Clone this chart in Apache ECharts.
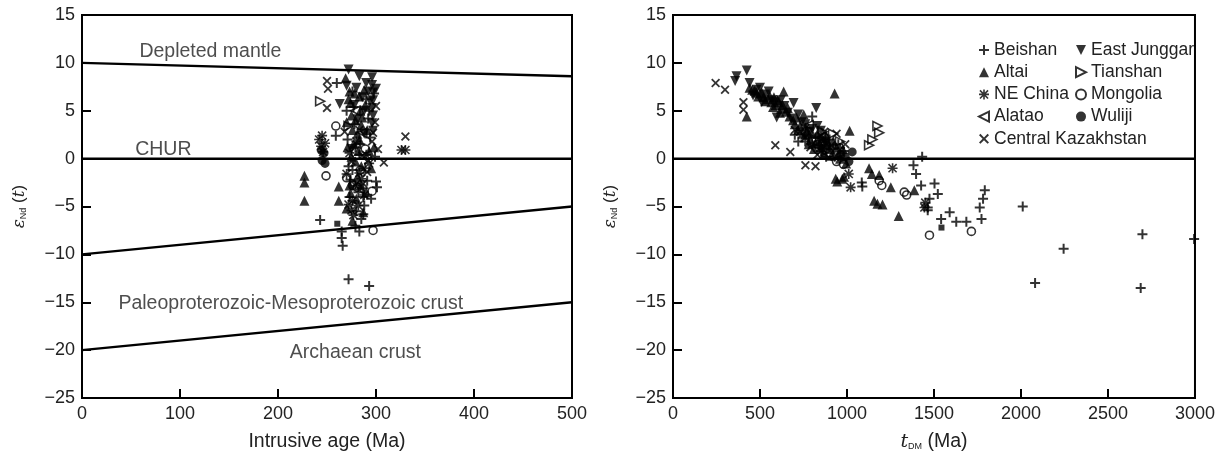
<!DOCTYPE html>
<html>
<head>
<meta charset="utf-8">
<title>eNd plots</title>
<script src="https://cdn.jsdelivr.net/npm/echarts@6/dist/echarts.min.js"></script>
</head>
<body style="margin:0;background:#fff;">
<div id="main" style="width:1218px;height:459px;"></div>
<script>
// 左图: 侵位年龄 - εNd(t)
var leftBeishan = [[243,-6.4],[265,-7.6],[265,-8.3],[266,-9.1],[272,-12.6],[293,-13.3],[260,7.9],[259,2.4],[276,7.0],[277,5.4],[278,3.6],[279,1.2],[276,-1.2],[287,-3.1],[287,-4.0],[288,-4.9],[287,-5.8],[290,6.2],[292,4.2],[294,2.2],[300,-2.4],[283,0.4],[272,-0.8],[274,-2.2],[298,6.8],[285,-6.3],
    [270,5.0],[271,2.0],[273,-4.0],[280,-5.5],[282,-3.5],[284,1.5],[289,-1.0],[291,-2.3],[293,5.0],[295,-4.2],[299,0.2],[301,-3.0],[279,-7.0],[283,-7.6]];
var leftAltai = [[227,-1.8],[227,-2.5],[227,-4.4],[262,-2.9],[262,-4.4],[269,8.4],[273,7.0],[274,5.8],[275,4.5],[276,3.0],[277,1.5],[275,0.2],[283,6.5],[284,5.0],[285,3.5],[283,2.0],[285,-0.8],[287,-5.6],[290,-3.5],[281,-1.9],[272,6.2],[280,-4.2],[288,7.2],[279,-0.3],
    [270,3.8],[271,1.2],[273,-2.8],[274,-3.6],[278,6.8],[279,4.0],[281,2.6],[282,0.8],[284,-2.8],[286,4.3],[289,5.6],[291,3.0],[293,0.8],[295,-1.0],[298,1.2],[270,-5.2],[276,-6.5]];
var leftNEChina = [[242,2.0],[244,1.3],[246,0.7],[248,1.6],[245,2.4],[272,-4.8],[275,-5.4],[277,-5.9],[276,-4.4],[283,-1.5],[285,-2.1],[326,0.9],[330,0.9],[280,1.8],[290,0.4],
    [270,-1.6],[279,-2.8],[282,-4.9],[288,-3.8],[293,-0.5],[273,0.6]];
var leftEastJunggar = [[272,9.3],[296,8.5],[263,5.7],[296,7.7],[297,6.9],[297,6.1],[296,5.3],[297,4.5],[296,3.7],[297,2.9],[280,7.4],[281,4.1],[275,1.0],[288,2.6],[290,7.9],
    [283,8.6],[286,6.4],[288,5.0],[292,7.0],[294,6.0],[270,7.6],[278,5.6],[300,7.3]];
var leftTianshan = [[243,6.0],[272,3.4],[278,-2.6]];
var leftMongolia = [[259,3.4],[249,-1.8],[276,-2.8],[281,-3.0],[296,-3.4],[297,-7.5],[289,1.0],[270,-2.0],[284,-1.2]];
var leftAlatao = [[286,2.7],[279,5.0]];
var leftWuliji = [[245,-0.2],[247,0.6],[248,-0.5],[244,0.9]];
var leftKazakh = [[250,8.1],[251,7.3],[250,5.3],[297,2.7],[296,1.8],[308,-0.4],[330,2.3],[291,-1.4],[275,-0.3],[286,0.3],[300,5.5],[299,3.8],
    [268,2.8],[283,3.0],[292,-0.2],[302,1.0],[287,-2.6]];
var leftOther = [[260.5,-6.8]];

// 右图: tDM - εNd(t)
var rightBeishan = [[800,4.4],[1088,-2.9],[1085,-2.5],[1382,-0.7],[1397,-1.6],[1432,0.2],[1426,-2.8],[1503,-2.6],[1522,-3.7],[1474,-4.2],[1464,-5.1],[1464,-5.4],[1541,-6.3],[1590,-5.6],[1628,-6.6],[1686,-6.6],[1773,-6.3],[1763,-5.1],[1782,-4.2],[1792,-3.3],[2010,-5.0],[2245,-9.4],[2081,-13.0],[2698,-7.9],[2688,-13.5],[2995,-8.4],[760,1.8],[820,2.2],[860,1.0],[900,2.0],[950,1.5],[980,0.8],[700,2.5],
    [720,1.8],[780,2.4],[840,1.4],[880,0.2],[920,1.0],[960,1.1]];
var rightAltai = [[424,4.4],[440,7.4],[470,7.1],[500,6.8],[520,6.4],[545,6.2],[565,5.9],[590,5.6],[620,5.2],[650,4.9],[580,6.4],[610,5.9],[636,7.0],[929,6.8],[751,4.6],[700,3.6],[720,3.0],[760,2.5],[790,2.0],[820,1.6],[850,1.2],[880,2.4],[1015,2.9],[935,-2.1],[983,-1.9],[944,-2.4],[973,-2.1],[1127,-1.0],[1143,-1.6],[1156,-4.4],[1175,-4.7],[1204,-4.8],[1297,-6.0],[1252,-3.0],[1387,-3.3],[900,1.0],[950,0.5],[1185,-1.7],
    [455,7.2],[480,6.9],[490,6.5],[510,6.9],[530,6.0],[555,6.6],[575,5.4],[600,6.1],[615,4.8],[630,5.6],[660,5.3],[670,4.4],[690,4.0],[710,4.3],[730,3.4],[745,2.6],[770,3.0],[780,1.5],[800,2.6],[810,1.0],[830,2.6],[840,1.8],[860,2.1],[870,0.6],[890,1.6],[910,0.3],[920,1.8],[940,1.2],[960,0.0],[975,1.0],[995,-0.5]];
var rightNEChina = [[1021,-3.0],[1262,-1.0],[1445,-5.1],[1450,-4.6],[800,1.5],[850,0.8],[760,3.2],[1010,-1.6],[880,1.4],[930,0.2]];
var rightEastJunggar = [[357,8.1],[365,8.6],[424,9.2],[823,5.3],[480,7.2],[530,6.7],[570,6.1],[596,4.3],[640,5.5],[680,4.2],[693,5.8],[740,3.8],[780,2.8],[870,1.8],[460,6.6],[510,5.9],
    [440,7.9],[500,7.4],[550,7.0],[585,5.9],[620,6.1],[660,4.8],[720,4.6],[760,3.6],[800,3.1],[830,3.4],[850,2.9]];
var rightTianshan = [[1175,3.4],[1185,2.7],[1146,2.0],[1127,1.4],[860,2.8],[920,2.6],[960,1.8],[880,0.8]];
var rightMongolia = [[1185,-2.3],[1329,-3.5],[1343,-3.8],[1474,-8.0],[1715,-7.6],[900,0.6],[830,1.5],[980,-0.6],[1200,-2.8],[860,1.6],[940,-0.3]];
var rightAlatao = [[850,2.2],[780,3.5]];
var rightWuliji = [[1030,0.7],[1011,-0.3],[990,0.2],[965,0.4]];
var rightKazakh = [[245,7.9],[299,7.2],[405,5.9],[405,5.1],[588,1.4],[674,0.7],[761,-0.7],[819,-0.8],[730,2.8],[760,2.2],[850,2.4],[880,1.6],[940,2.6],[700,3.0],
    [790,1.2],[830,0.4],[870,2.8],[910,1.4],[990,1.5]];
var rightOther = [[1543,-7.2]];

// 参考线与文字
var refLines = [
    [[0,10],[500,8.6]],
    [[0,0],[500,0]],
    [[0,-10],[500,-5]],
    [[0,-20],[500,-15]]
];
var refLabels = [
    {name:'Depleted mantle', value:[131,11.2]},
    {name:'CHUR', value:[83,0.9]},
    {name:'Paleoproterozoic-Mesoproterozoic crust', value:[213,-15.1]},
    {name:'Archaean crust', value:[279,-20.3]}
];
var chur2 = [[0,0],[3000,0]];

var yTicks = {min:-25, max:15, interval:5};
var xTicksL = {min:0, max:500, interval:100};
var xTicksR = {min:0, max:3000, interval:500};

var FONT = 'Liberation Sans';
var PLUS = 'path://M4,0h2v4h4v2h-4v4h-2v-4h-4v-2h4z';
var CROSS = 'path://M1.4,0L5,3.6L8.6,0L10,1.4L6.4,5L10,8.6L8.6,10L5,6.4L1.4,10L0,8.6L3.6,5L0,1.4z';
var STAR = 'path://M4.2,0h1.6v10h-1.6z M0,4.2h10v1.6h-10z M1.5,0.4L9.6,8.5L8.5,9.6L0.4,1.5z M8.5,0.4L9.6,1.5L1.5,9.6L0.4,8.5z';
var DOWN = 'path://M0,0L10,0L5,10z';
var RIGHT = 'path://M0,0L10,5L0,10z';
var LEFT = 'path://M10,0L0,5L10,10z';

var filled = {color:'#000'};
var open = {color:'rgba(255,255,255,0)', borderColor:'#000', borderWidth:1.6};

var groups = [
    {name:'Beishan', l:leftBeishan, r:rightBeishan, symbol:PLUS, size:10, style:filled},
    {name:'Altai', l:leftAltai, r:rightAltai, symbol:'triangle', size:10, style:filled},
    {name:'NE China', l:leftNEChina, r:rightNEChina, symbol:STAR, size:10, style:filled},
    {name:'Alatao', l:leftAlatao, r:rightAlatao, symbol:LEFT, size:9, style:open},
    {name:'Central Kazakhstan', l:leftKazakh, r:rightKazakh, symbol:CROSS, size:9, style:filled},
    {name:'East Junggar', l:leftEastJunggar, r:rightEastJunggar, symbol:DOWN, size:10, style:filled},
    {name:'Tianshan', l:leftTianshan, r:rightTianshan, symbol:RIGHT, size:9, style:open},
    {name:'Mongolia', l:leftMongolia, r:rightMongolia, symbol:'circle', size:8, style:open},
    {name:'Wuliji', l:leftWuliji, r:rightWuliji, symbol:'circle', size:9, style:filled}
];

var minus = function (v) { return String(v).replace('-', '\u2212'); };
var axisLine = {show:true, onZero:false, lineStyle:{color:'#000', width:2}};
var axisTick = {show:true, inside:true, length:9, lineStyle:{color:'#000', width:2}};
var axisLabel = {color:'#222', fontSize:18, fontFamily:FONT, formatter:minus, margin:7};

var yName = '{e|\u03b5}{s|Nd}{n| (}{t|t}{n|)}';
var yNameStyle = {
    rich:{
        e:{fontSize:17, fontStyle:'italic', fontFamily:'DejaVu Serif', color:'#222'},
        s:{fontSize:9, fontFamily:FONT, color:'#222', padding:[8,0,0,0]},
        n:{fontSize:17, fontFamily:FONT, color:'#222'},
        t:{fontSize:17, fontStyle:'italic', fontFamily:'DejaVu Serif', color:'#222'}
    }
};

var myChart = echarts.init(document.getElementById('main'));

var series = [];
refLines.forEach(function (d) {
    series.push({type:'line', xAxisIndex:0, yAxisIndex:0, data:d, symbol:'none', silent:true,
        lineStyle:{color:'#000', width:2.5}, z:1});
});
series.push({type:'line', xAxisIndex:1, yAxisIndex:1, data:chur2, symbol:'none', silent:true,
    lineStyle:{color:'#000', width:2.5}, z:1});
series.push({type:'scatter', xAxisIndex:0, yAxisIndex:0, data:refLabels, symbolSize:0, silent:true,
    label:{show:true, position:'inside', formatter:'{b}', color:'#222', fontSize:19.5, fontFamily:FONT}});

groups.forEach(function (g) {
    [['l',0],['r',1]].forEach(function (p) {
        series.push({
            name:g.name, type:'scatter', xAxisIndex:p[1], yAxisIndex:p[1],
            data:g[p[0]], symbol:g.symbol, symbolSize:g.size,
            itemStyle:g.style, z:3
        });
    });
});
series.push({type:'scatter', xAxisIndex:0, yAxisIndex:0, data:leftOther, symbol:'rect', symbolSize:6, itemStyle:filled});
series.push({type:'scatter', xAxisIndex:1, yAxisIndex:1, data:rightOther, symbol:'rect', symbolSize:6, itemStyle:filled});

var legendText = {fontSize:17.5, fontFamily:FONT, color:'#222'};
var option = {
    backgroundColor:'#fff',
    animation:false,
    grid:[
        {left:82, right:646, top:15, bottom:61, show:true, borderColor:'#000', borderWidth:2},
        {left:673, right:23, top:15, bottom:61, show:true, borderColor:'#000', borderWidth:2}
    ],
    legend:[
        {data:['Beishan','Altai','NE China','Alatao','Central Kazakhstan'], orient:'vertical',
            left:973, top:36, itemWidth:10, itemHeight:10, itemGap:4.2, textStyle:legendText},
        {data:['East Junggar','Tianshan','Mongolia','Wuliji'], orient:'vertical',
            left:1070, top:36, itemWidth:10, itemHeight:10, itemGap:4.2, textStyle:legendText}
    ],
    xAxis:[
        {gridIndex:0, type:'value', min:xTicksL.min, max:xTicksL.max, interval:xTicksL.interval,
            splitLine:{show:false}, axisLine:axisLine, axisTick:axisTick, axisLabel:axisLabel,
            name:'Intrusive age (Ma)', nameLocation:'middle', nameGap:34,
            nameTextStyle:{fontSize:19.5, fontFamily:FONT, color:'#222'}},
        {gridIndex:1, type:'value', min:xTicksR.min, max:xTicksR.max, interval:xTicksR.interval,
            splitLine:{show:false}, axisLine:axisLine, axisTick:axisTick, axisLabel:axisLabel,
            name:'{t|t}{s|DM}{n| (Ma)}', nameLocation:'middle', nameGap:34,
            nameTextStyle:{rich:{
                t:{fontSize:19, fontStyle:'italic', fontFamily:'DejaVu Serif', color:'#222'},
                s:{fontSize:9, fontFamily:FONT, color:'#222', padding:[9,0,0,0]},
                n:{fontSize:19.5, fontFamily:FONT, color:'#222'}
            }}}
    ],
    yAxis:[
        {gridIndex:0, type:'value', min:yTicks.min, max:yTicks.max, interval:yTicks.interval,
            splitLine:{show:false}, axisLine:axisLine, axisTick:axisTick, axisLabel:axisLabel,
            name:yName, nameLocation:'middle', nameGap:54, nameRotate:90, nameTextStyle:yNameStyle},
        {gridIndex:1, type:'value', min:yTicks.min, max:yTicks.max, interval:yTicks.interval,
            splitLine:{show:false}, axisLine:axisLine, axisTick:axisTick, axisLabel:axisLabel,
            name:yName, nameLocation:'middle', nameGap:54, nameRotate:90, nameTextStyle:yNameStyle}
    ],
    series:series
};

myChart.setOption(option);
</script>
</body>
</html>
